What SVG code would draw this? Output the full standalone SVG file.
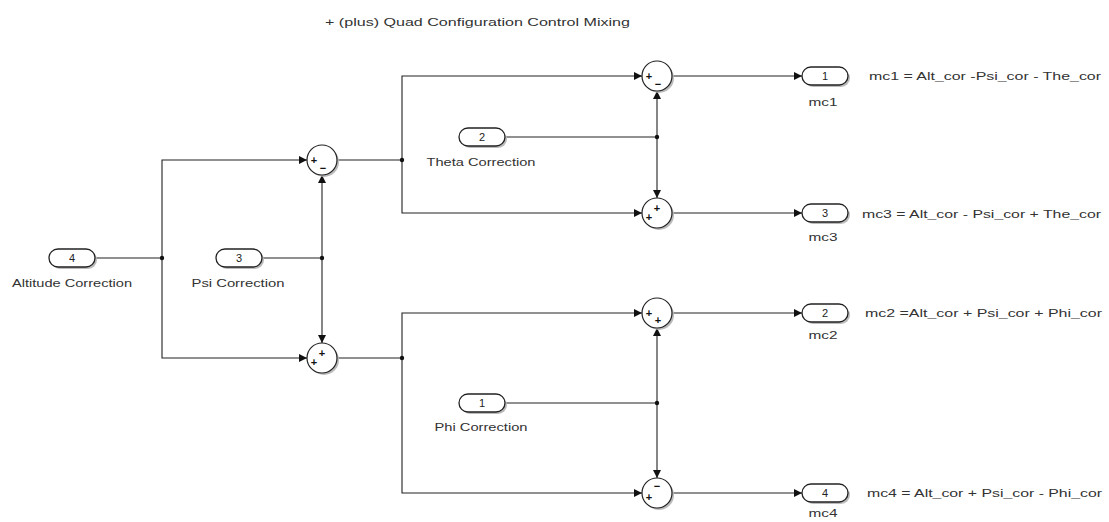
<svg xmlns="http://www.w3.org/2000/svg" width="1109" height="522" viewBox="0 0 1109 522">
<style>
text{font-family:"Liberation Sans",Arial,sans-serif;fill:#333}
.lbl{font-size:11.5px;text-anchor:middle}
.num{font-size:11px;text-anchor:middle;fill:#222}
.sg{font-size:11px;text-anchor:middle;fill:#111;font-weight:bold}
.eq{font-size:11.5px}
.pill{fill:#fff;stroke:#222;stroke-width:1.3}
.psh{fill:#bbb}
.sum{fill:#fff;stroke:#222;stroke-width:1.2}
.wire{fill:none;stroke:#222;stroke-width:1.1}
.dot{fill:#111}
</style>
<defs>
<marker id="ar" viewBox="0 0 10 10" refX="10" refY="5" markerWidth="9" markerHeight="8" markerUnits="userSpaceOnUse" orient="auto">
<path d="M0,0 L10,5 L0,10 Z" fill="#111"/>
</marker>
</defs>
<rect width="1109" height="522" fill="#fff"/>
<text x="325" y="26" font-size="10.5" textLength="305" lengthAdjust="spacingAndGlyphs">+ (plus) Quad Configuration Control Mixing</text>

<g id="connectors">
<path class="wire" d="M95,258 H162"/>
<path class="wire" d="M162,258 V160 H307" marker-end="url(#ar)"/>
<path class="wire" d="M162,258 V358 H307" marker-end="url(#ar)"/>
<path class="wire" d="M262,258 H322"/>
<path class="wire" d="M322,258 V175" marker-end="url(#ar)"/>
<path class="wire" d="M322,258 V343" marker-end="url(#ar)"/>
<path class="wire" d="M337,160 H402"/>
<path class="wire" d="M402,160 V76 H642" marker-end="url(#ar)"/>
<path class="wire" d="M402,160 V213 H642" marker-end="url(#ar)"/>
<path class="wire" d="M505,137 H657"/>
<path class="wire" d="M657,137 V91" marker-end="url(#ar)"/>
<path class="wire" d="M657,137 V198" marker-end="url(#ar)"/>
<path class="wire" d="M672,76 H802" marker-end="url(#ar)"/>
<path class="wire" d="M672,213 H802" marker-end="url(#ar)"/>
<path class="wire" d="M337,358 H402"/>
<path class="wire" d="M402,358 V313 H642" marker-end="url(#ar)"/>
<path class="wire" d="M402,358 V493 H642" marker-end="url(#ar)"/>
<path class="wire" d="M505,403 H657"/>
<path class="wire" d="M657,403 V328" marker-end="url(#ar)"/>
<path class="wire" d="M657,403 V478" marker-end="url(#ar)"/>
<path class="wire" d="M672,313 H802" marker-end="url(#ar)"/>
<path class="wire" d="M672,493 H802" marker-end="url(#ar)"/>
<circle class="dot" cx="162" cy="258" r="2.2"/>
<circle class="dot" cx="322" cy="258" r="2.2"/>
<circle class="dot" cx="402" cy="160" r="2.2"/>
<circle class="dot" cx="657" cy="137" r="2.2"/>
<circle class="dot" cx="402" cy="358" r="2.2"/>
<circle class="dot" cx="657" cy="403" r="2.2"/>
</g>

<g id="in_altitude">
<rect class="psh" x="51" y="251" width="46" height="18" rx="9"/>
<rect class="pill" x="49" y="249" width="46" height="18" rx="9"/>
<text class="num" x="72" y="262">4</text>
<text class="lbl" x="72" y="287" textLength="120" lengthAdjust="spacingAndGlyphs">Altitude Correction</text>
</g>
<g id="in_psi">
<rect class="psh" x="218" y="251" width="46" height="18" rx="9"/>
<rect class="pill" x="216" y="249" width="46" height="18" rx="9"/>
<text class="num" x="239" y="262">3</text>
<text class="lbl" x="238" y="287" textLength="93" lengthAdjust="spacingAndGlyphs">Psi Correction</text>
</g>
<g id="in_theta">
<rect class="psh" x="461" y="130" width="46" height="18" rx="9"/>
<rect class="pill" x="459" y="128" width="46" height="18" rx="9"/>
<text class="num" x="482" y="141">2</text>
<text class="lbl" x="481" y="166" textLength="109" lengthAdjust="spacingAndGlyphs">Theta Correction</text>
</g>
<g id="in_phi">
<rect class="psh" x="461" y="396" width="46" height="18" rx="9"/>
<rect class="pill" x="459" y="394" width="46" height="18" rx="9"/>
<text class="num" x="482" y="407">1</text>
<text class="lbl" x="481" y="431" textLength="93" lengthAdjust="spacingAndGlyphs">Phi Correction</text>
</g>

<g id="sum_psi_minus">
<circle class="psh" cx="324" cy="162" r="15"/>
<circle class="sum" cx="322" cy="160" r="15"/>
<text class="sg" x="314" y="164">+</text>
<text class="sg" x="323" y="172">−</text>
</g>
<g id="sum_psi_plus">
<circle class="psh" cx="324" cy="360" r="15"/>
<circle class="sum" cx="322" cy="358" r="15"/>
<text class="sg" x="314" y="366">+</text>
<text class="sg" x="322" y="357">+</text>
</g>
<g id="sum1">
<circle class="psh" cx="659" cy="78" r="15"/>
<circle class="sum" cx="657" cy="76" r="15"/>
<text class="sg" x="649" y="80">+</text>
<text class="sg" x="658" y="88">−</text>
</g>
<g id="sum3">
<circle class="psh" cx="659" cy="215" r="15"/>
<circle class="sum" cx="657" cy="213" r="15"/>
<text class="sg" x="649" y="221">+</text>
<text class="sg" x="657" y="212">+</text>
</g>
<g id="sum2">
<circle class="psh" cx="659" cy="315" r="15"/>
<circle class="sum" cx="657" cy="313" r="15"/>
<text class="sg" x="649" y="317">+</text>
<text class="sg" x="658" y="324">+</text>
</g>
<g id="sum4">
<circle class="psh" cx="659" cy="495" r="15"/>
<circle class="sum" cx="657" cy="493" r="15"/>
<text class="sg" x="649" y="501">+</text>
<text class="sg" x="657" y="490">−</text>
</g>

<g id="out_mc1">
<rect class="psh" x="804" y="69" width="46" height="18" rx="9"/>
<rect class="pill" x="802" y="67" width="46" height="18" rx="9"/>
<text class="num" x="825" y="80">1</text>
<text class="lbl" x="823" y="106" textLength="29" lengthAdjust="spacingAndGlyphs">mc1</text>
<text class="eq" x="869" y="80" textLength="232" lengthAdjust="spacingAndGlyphs">mc1 = Alt_cor -Psi_cor - The_cor</text>
</g>
<g id="out_mc3">
<rect class="psh" x="804" y="206" width="46" height="18" rx="9"/>
<rect class="pill" x="802" y="204" width="46" height="18" rx="9"/>
<text class="num" x="825" y="217">3</text>
<text class="lbl" x="823" y="241" textLength="29" lengthAdjust="spacingAndGlyphs">mc3</text>
<text class="eq" x="862" y="218" textLength="239" lengthAdjust="spacingAndGlyphs">mc3 = Alt_cor - Psi_cor + The_cor</text>
</g>
<g id="out_mc2">
<rect class="psh" x="804" y="306" width="46" height="18" rx="9"/>
<rect class="pill" x="802" y="304" width="46" height="18" rx="9"/>
<text class="num" x="825" y="317">2</text>
<text class="lbl" x="823" y="339" textLength="29" lengthAdjust="spacingAndGlyphs">mc2</text>
<text class="eq" x="865" y="317" textLength="237" lengthAdjust="spacingAndGlyphs">mc2 =Alt_cor + Psi_cor + Phi_cor</text>
</g>
<g id="out_mc4">
<rect class="psh" x="804" y="486" width="46" height="18" rx="9"/>
<rect class="pill" x="802" y="484" width="46" height="18" rx="9"/>
<text class="num" x="825" y="497">4</text>
<text class="lbl" x="823" y="517" textLength="29" lengthAdjust="spacingAndGlyphs">mc4</text>
<text class="eq" x="867" y="497" textLength="235" lengthAdjust="spacingAndGlyphs">mc4 = Alt_cor + Psi_cor - Phi_cor</text>
</g>
</svg>
